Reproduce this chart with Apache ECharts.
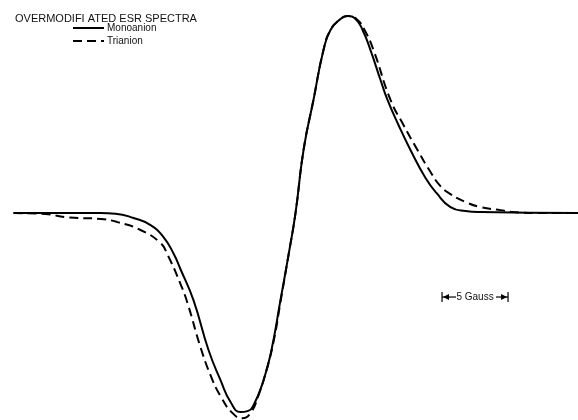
<!DOCTYPE html>
<html>
<head>
<meta charset="utf-8">
<script src="https://cdn.jsdelivr.net/npm/echarts@6/dist/echarts.min.js"></script>
<style>
html,body{margin:0;padding:0;background:#fff;}
#chart{width:578px;height:420px;}
</style>
</head>
<body>
<div id="chart"></div>
<script>
// Field offset (Gauss) and signal amplitude (arb. units)
const monoField = [-21.36,-17.80,-14.77,-13.64,-12.27,-10.98,-10.00,-9.24,-8.71,-7.73,-6.59,-5.68,-4.92,-4.17,-3.64,-3.18,-2.42,-1.82,-1.14,-0.53,0.00,0.61,1.36,2.12,2.65,3.41,3.94,4.55,5.08,5.68,6.44,6.97,7.80,8.71,9.85,10.68,11.74,12.88,14.02,21.44];
const monoAmp   = [0,0,0,-0.3,-2.5,-6.1,-12.2,-20.5,-28.5,-44.2,-69.5,-84.8,-95.9,-101.0,-100.5,-97.5,-84.8,-69.5,-44.2,-21.3,0,32.0,57.4,82.7,92.9,98.5,100,98.5,92.9,82.7,67.5,57.4,44.7,32.0,17.8,10.2,3.0,1.0,0.5,0];
const triField  = [-21.36,-18.94,-17.27,-14.77,-13.48,-11.74,-10.23,-9.70,-8.71,-8.18,-7.20,-6.44,-5.68,-4.77,-4.02,-3.41,-2.80,-2.20,-1.67,-1.14,-0.53,0.00,0.61,1.36,2.12,2.65,3.41,3.94,4.62,5.23,5.91,7.20,8.18,9.24,10.23,10.98,11.74,12.88,14.02,15.53,16.52,18.56,21.44];
const triAmp    = [0,-0.5,-2.2,-3.0,-4.6,-8.6,-15.2,-21.0,-36.0,-45.7,-68.0,-82.2,-92.9,-101.5,-104.1,-101.5,-92.4,-79.7,-65.5,-45.2,-21.3,0,32.0,57.4,82.7,92.9,98.5,100,98.5,92.9,82.7,57.4,44.7,32.0,20.8,13.7,9.6,5.6,3.0,1.5,0.5,0,0];

const legendNames = ['Monoanion','Trianion'];
const titleText = 'OVERMODIFI ATED ESR SPECTRA';
const scaleLabel = '5 Gauss';
const scaleFrom = 11.1, scaleTo = 16.1, scaleAmp = -42.6;

function pairs(xs, ys){ return xs.map((x,i)=>[x, ys[i]]); }

const chart = echarts.init(document.getElementById('chart'), null, {renderer:'canvas'});
chart.setOption({
  backgroundColor:'#ffffff',
  animation:false,
  title:{
    text:titleText, left:10, top:8,
    textStyle:{fontFamily:'Liberation Sans', fontSize:11, fontWeight:'normal', color:'#111'}
  },
  legend:{
    data:legendNames, orient:'vertical', left:67, top:18, itemGap:3,
    itemWidth:31, itemHeight:8,
    itemStyle:{opacity:0},
    textStyle:{fontFamily:'Liberation Sans', fontSize:10, color:'#111', padding:[0,0,0,-2]}
  },
  grid:{left:13, right:0, top:16, height:404, containLabel:false},
  xAxis:{type:'value', min:-21.4, max:21.4, show:false},
  yAxis:{type:'value', min:-105, max:100, show:false},
  series:[
    {name:legendNames[0], type:'line', data:pairs(monoField, monoAmp), smooth:0.5, symbol:'none', clip:false,
     lineStyle:{color:'#000', width:2, type:'solid'}, itemStyle:{color:'#000'}},
    {name:legendNames[1], type:'line', data:pairs(triField, triAmp), smooth:0.5, symbol:'none', clip:false,
     lineStyle:{color:'#000', width:2, type:[9,5]}, itemStyle:{color:'#000'}}
  ]
});

const p1 = chart.convertToPixel({gridIndex:0}, [scaleFrom, scaleAmp]);
const p2 = chart.convertToPixel({gridIndex:0}, [scaleTo, scaleAmp]);
const y = p1[1], x1 = p1[0], x2 = p2[0];
const st = {stroke:'#000', lineWidth:1.2};
chart.setOption({
  graphic:[
    {type:'line', shape:{x1:x1,y1:y-5,x2:x1,y2:y+5}, style:st},
    {type:'line', shape:{x1:x1,y1:y,x2:x1+14,y2:y}, style:st},
    {type:'polygon', shape:{points:[[x1+1,y],[x1+7,y-3],[x1+7,y+3]]}, style:{fill:'#000'}},
    {type:'text', x:(x1+x2)/2, y:y, style:{text:scaleLabel, fill:'#111', font:'10px "Liberation Sans"', align:'center', verticalAlign:'middle'}},
    {type:'line', shape:{x1:x2-12,y1:y,x2:x2,y2:y}, style:st},
    {type:'polygon', shape:{points:[[x2-1,y],[x2-7,y-3],[x2-7,y+3]]}, style:{fill:'#000'}},
    {type:'line', shape:{x1:x2,y1:y-5,x2:x2,y2:y+5}, style:st}
  ]
});
</script>
</body>
</html>
